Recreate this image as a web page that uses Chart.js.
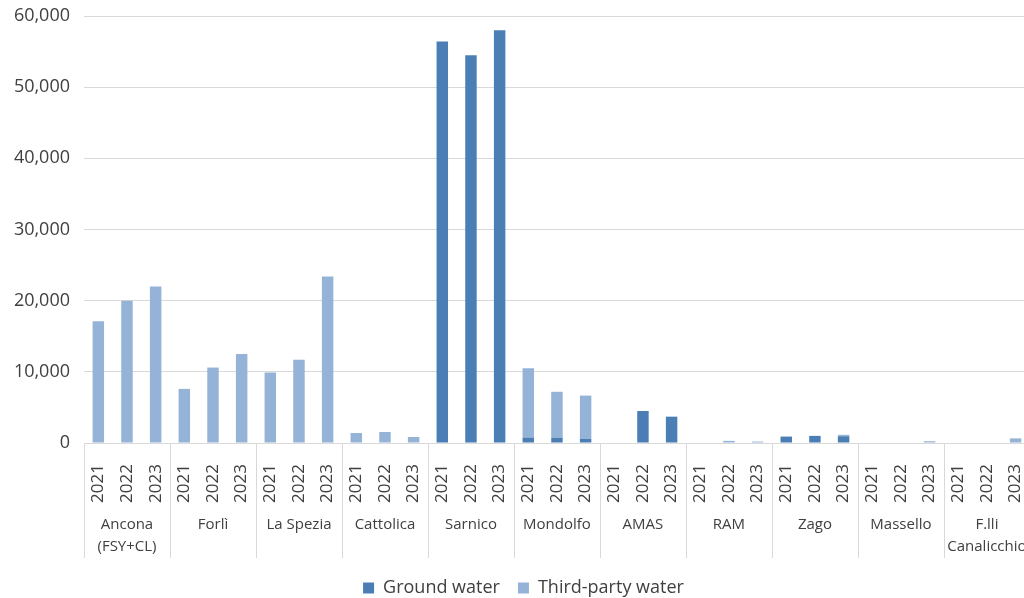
<!DOCTYPE html>
<html>
<head>
<meta charset="utf-8">
<script src="https://cdn.jsdelivr.net/npm/chart.js@4/dist/chart.umd.min.js"></script>
<style>
  html, body { margin: 0; padding: 0; background: #fff; overflow: hidden; }
  #wrap { width: 1049px; height: 607px; }
</style>
</head>
<body>
<div id="wrap"><canvas id="grafico" width="1049" height="607"></canvas></div>
<script>
// dati
const anni = ["2021", "2022", "2023"];
const siti = [
  ["Ancona", "(FSY+CL)"], "Forlì", "La Spezia", "Cattolica", "Sarnico", "Mondolfo",
  "AMAS", "RAM", "Zago", "Massello", ["F.lli", "Canalicchio"]
];
const groundWater = [
  0, 0, 0,
  0, 0, 0,
  0, 0, 0,
  0, 0, 0,
  56400, 54500, 58000,
  750, 750, 560,
  0, 4500, 3700,
  0, 0, 0,
  900, 1000, 950,
  0, 0, 0,
  0, 0, 0
];
const thirdPartyWater = [
  17100, 20000, 22000,
  7600, 10600, 12500,
  9900, 11700, 23400,
  1400, 1550, 850,
  0, 0, 0,
  9750, 6450, 6100,
  0, 0, 0,
  0, 300, 200,
  0, 0, 200,
  0, 0, 250,
  0, 0, 650
];

const etichette = [];
siti.forEach(() => anni.forEach(a => etichette.push(a)));

const coloreTesto = "#404040";
const coloreGriglia = "#d9d9d9";
const famiglia = "'Open Sans', 'Noto Sans', sans-serif";

// linee verticali che separano i gruppi sotto l'asse
const separatori = {
  id: "separatori",
  afterDraw(chart) {
    const x = chart.scales.x;
    const ctx = chart.ctx;
    const fondo = 558;
    ctx.save();
    ctx.strokeStyle = coloreGriglia;
    ctx.lineWidth = 1;
    for (let g = 0; g <= siti.length; g++) {
      let px;
      if (g === 0) px = x.left;
      else if (g === siti.length) px = x.right;
      else px = (x.getPixelForValue(g * 3 - 1) + x.getPixelForValue(g * 3)) / 2;
      px = Math.round(px) + 0.5;
      ctx.beginPath();
      ctx.moveTo(px, chart.chartArea.bottom);
      ctx.lineTo(px, fondo);
      ctx.stroke();
    }
    ctx.restore();
  }
};

new Chart(document.getElementById("grafico"), {
  type: "bar",
  data: {
    labels: etichette,
    datasets: [
      {
        label: "Ground water",
        data: groundWater,
        backgroundColor: "#4a7eb4",
        barPercentage: 0.4,
        categoryPercentage: 1
      },
      {
        label: "Third-party water",
        data: thirdPartyWater,
        backgroundColor: "#95b3d7",
        barPercentage: 0.4,
        categoryPercentage: 1
      }
    ]
  },
  options: {
    responsive: false,
    animation: false,
    layout: { padding: { top: 16, right: 2, left: 0, bottom: 0 } },
    plugins: {
      tooltip: { enabled: false },
      legend: {
        position: "bottom",
        labels: {
          color: coloreTesto,
          font: { family: famiglia, size: 18 },
          boxWidth: 11,
          boxHeight: 11,
          padding: 18
        }
      }
    },
    scales: {
      x: {
        stacked: true,
        grid: { display: false },
        border: { display: true, color: coloreGriglia },
        ticks: {
          autoSkip: false,
          minRotation: 90,
          maxRotation: 90,
          padding: 13,
          color: coloreTesto,
          font: { family: famiglia, size: 17 }
        },
        afterFit(scale) { scale.height = 62; }
      },
      x2: {
        type: "category",
        position: "bottom",
        labels: siti,
        offset: true,
        grid: { display: false },
        border: { display: false },
        ticks: {
          autoSkip: false,
          maxRotation: 0,
          padding: 0,
          color: coloreTesto,
          font: { family: famiglia, size: 15, lineHeight: 1.5 }
        },
        afterFit(scale) { scale.height = 56; }
      },
      y: {
        stacked: true,
        min: 0,
        max: 60000,
        grid: { color: coloreGriglia, drawTicks: false },
        border: { display: false },
        ticks: {
          stepSize: 10000,
          padding: 14,
          color: coloreTesto,
          font: { family: famiglia, size: 18 },
          callback: v => v.toLocaleString("en-US")
        },
        afterFit(scale) {
          scale.width = 84;
          scale.paddingTop = 0;
          scale.paddingBottom = 0;
        }
      }
    }
  },
  plugins: [separatori]
});
</script>
</body>
</html>
